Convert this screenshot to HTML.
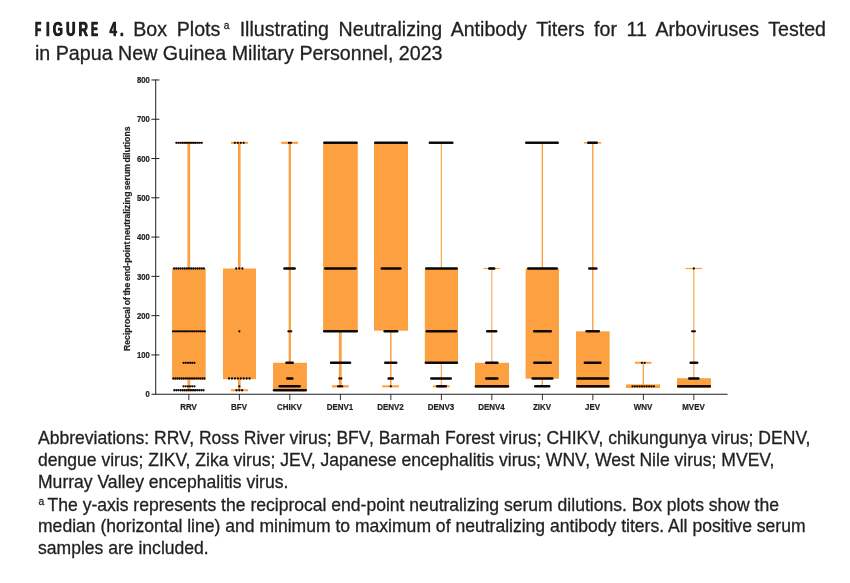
<!DOCTYPE html>
<html lang="en">
<head>
<meta charset="utf-8">
<title>Figure 4</title>
<style>
html,body{margin:0;padding:0;background:#fff;}
body{width:850px;height:583px;position:relative;overflow:hidden;font-family:"Liberation Sans",Arial,sans-serif;color:#231f20;}
.ln{position:absolute;white-space:nowrap;margin:0;line-height:1;-webkit-text-stroke:0.3px #231f20;}
.t{font-size:19.6px;}
.c{font-size:17.56px;}
.fig{display:inline-block;font-weight:bold;letter-spacing:4.8px;word-spacing:0.1px;transform:scaleX(0.66);transform-origin:0 50%;text-shadow:0.55px 0 0 #231f20,-0.55px 0 0 #231f20;}
.nw{display:inline-block;transform:scaleX(0.8);transform-origin:0 50%;}
sup.a{font-size:10.2px;vertical-align:baseline;position:relative;top:-7px;line-height:0;}
svg text{font-family:"Liberation Sans",Arial,sans-serif;fill:#231f20;stroke:#231f20;stroke-width:0.22px;}
.tk{font-size:8.7px;font-weight:bold;}
.xl{font-size:9.2px;font-weight:bold;}
.yl{font-size:8.66px;font-weight:bold;word-spacing:-0.9px;}
</style>
</head>
<body>
<div class="ln t" id="t1" style="left:35px;top:20px;word-spacing:4.2px;"><span class="fig"><span class="nw">F</span>IGUR<span class="nw">E</span> 4.</span><span id="t1r" style="position:absolute;left:98.3px;top:0;">Box Plots<sup class="a" style="margin:0 0.5px 0 3.6px">a</sup> Illustrating Neutralizing Antibody Titers for 11 Arboviruses Tested</span></div>
<div class="ln t" id="t2" style="left:35px;top:43.7px;font-size:19.66px;">in Papua New Guinea Military Personnel, 2023</div>
<svg width="850" height="583" viewBox="0 0 850 583" style="position:absolute;left:0;top:0">
<g shape-rendering="auto">
<rect x="187.45" y="142.81" width="2.70" height="247.46" fill="#fda03f"/>
<rect x="181.50" y="141.71" width="14.70" height="2.20" fill="#fda03f"/>
<rect x="181.50" y="389.17" width="14.70" height="2.20" fill="#fda03f"/>
<rect x="172.10" y="268.50" width="33.60" height="111.30" fill="#fda03f"/>
<rect x="238.00" y="142.81" width="2.60" height="247.46" fill="#fda03f"/>
<rect x="231.00" y="141.76" width="17.00" height="2.10" fill="#fda03f"/>
<rect x="231.00" y="389.27" width="17.00" height="2.00" fill="#fda03f"/>
<rect x="223.00" y="268.50" width="33.00" height="110.70" fill="#fda03f"/>
<rect x="288.65" y="142.81" width="2.30" height="247.46" fill="#fda03f"/>
<rect x="281.20" y="141.71" width="16.80" height="2.20" fill="#fda03f"/>
<rect x="273.00" y="362.78" width="33.90" height="28.02" fill="#fda03f"/>
<rect x="338.90" y="331.35" width="2.80" height="54.99" fill="#fda03f"/>
<rect x="332.00" y="385.19" width="16.70" height="2.30" fill="#fda03f"/>
<rect x="323.10" y="142.51" width="34.70" height="188.89" fill="#fda03f"/>
<rect x="390.05" y="331.35" width="1.50" height="54.99" fill="#fda03f"/>
<rect x="382.20" y="385.34" width="16.80" height="2.00" fill="#fda03f"/>
<rect x="374.00" y="142.51" width="34.00" height="188.19" fill="#fda03f"/>
<rect x="440.75" y="142.81" width="1.10" height="243.54" fill="#fda03f"/>
<rect x="433.00" y="385.34" width="16.60" height="2.00" fill="#fda03f"/>
<rect x="424.80" y="268.50" width="33.20" height="94.70" fill="#fda03f"/>
<rect x="491.30" y="268.50" width="1.00" height="117.84" fill="#fda03f"/>
<rect x="483.40" y="267.90" width="16.60" height="1.20" fill="#fda03f"/>
<rect x="475.00" y="362.78" width="34.00" height="25.22" fill="#fda03f"/>
<rect x="541.60" y="142.81" width="1.40" height="243.54" fill="#fda03f"/>
<rect x="525.60" y="268.50" width="33.40" height="110.20" fill="#fda03f"/>
<rect x="592.10" y="142.81" width="1.40" height="243.54" fill="#fda03f"/>
<rect x="584.00" y="142.01" width="17.20" height="1.60" fill="#fda03f"/>
<rect x="576.00" y="331.35" width="33.60" height="56.65" fill="#fda03f"/>
<rect x="642.65" y="362.78" width="1.30" height="23.57" fill="#fda03f"/>
<rect x="635.00" y="361.78" width="16.40" height="2.00" fill="#fda03f"/>
<rect x="626.00" y="384.40" width="34.00" height="3.60" fill="#fda03f"/>
<rect x="693.25" y="268.50" width="1.10" height="109.98" fill="#fda03f"/>
<rect x="685.40" y="267.90" width="16.60" height="1.20" fill="#fda03f"/>
<rect x="677.00" y="378.20" width="34.00" height="9.80" fill="#fda03f"/>
</g>
<g fill="#0a0606">
<circle cx="176.35" cy="142.81" r="1.15"/>
<circle cx="178.30" cy="142.81" r="1.15"/>
<circle cx="180.26" cy="142.81" r="1.15"/>
<circle cx="182.21" cy="142.81" r="1.15"/>
<circle cx="184.17" cy="142.81" r="1.15"/>
<circle cx="186.12" cy="142.81" r="1.15"/>
<circle cx="188.07" cy="142.81" r="1.15"/>
<circle cx="190.03" cy="142.81" r="1.15"/>
<circle cx="191.98" cy="142.81" r="1.15"/>
<circle cx="193.93" cy="142.81" r="1.15"/>
<circle cx="195.89" cy="142.81" r="1.15"/>
<circle cx="197.84" cy="142.81" r="1.15"/>
<circle cx="199.80" cy="142.81" r="1.15"/>
<circle cx="201.75" cy="142.81" r="1.15"/>
<circle cx="174.15" cy="268.50" r="1.15"/>
<circle cx="176.27" cy="268.50" r="1.15"/>
<circle cx="178.39" cy="268.50" r="1.15"/>
<circle cx="180.51" cy="268.50" r="1.15"/>
<circle cx="182.64" cy="268.50" r="1.15"/>
<circle cx="184.76" cy="268.50" r="1.15"/>
<circle cx="186.88" cy="268.50" r="1.15"/>
<circle cx="189.00" cy="268.50" r="1.15"/>
<circle cx="191.12" cy="268.50" r="1.15"/>
<circle cx="193.24" cy="268.50" r="1.15"/>
<circle cx="195.36" cy="268.50" r="1.15"/>
<circle cx="197.49" cy="268.50" r="1.15"/>
<circle cx="199.61" cy="268.50" r="1.15"/>
<circle cx="201.73" cy="268.50" r="1.15"/>
<circle cx="203.85" cy="268.50" r="1.15"/>
<circle cx="173.05" cy="331.35" r="1.15"/>
<circle cx="175.03" cy="331.35" r="1.15"/>
<circle cx="177.01" cy="331.35" r="1.15"/>
<circle cx="178.99" cy="331.35" r="1.15"/>
<circle cx="180.98" cy="331.35" r="1.15"/>
<circle cx="182.96" cy="331.35" r="1.15"/>
<circle cx="184.94" cy="331.35" r="1.15"/>
<circle cx="186.92" cy="331.35" r="1.15"/>
<circle cx="188.90" cy="331.35" r="1.15"/>
<circle cx="190.88" cy="331.35" r="1.15"/>
<circle cx="192.86" cy="331.35" r="1.15"/>
<circle cx="194.84" cy="331.35" r="1.15"/>
<circle cx="196.82" cy="331.35" r="1.15"/>
<circle cx="198.81" cy="331.35" r="1.15"/>
<circle cx="200.79" cy="331.35" r="1.15"/>
<circle cx="202.77" cy="331.35" r="1.15"/>
<circle cx="204.75" cy="331.35" r="1.15"/>
<circle cx="183.55" cy="362.78" r="1.15"/>
<circle cx="185.73" cy="362.78" r="1.15"/>
<circle cx="187.91" cy="362.78" r="1.15"/>
<circle cx="190.09" cy="362.78" r="1.15"/>
<circle cx="192.27" cy="362.78" r="1.15"/>
<circle cx="194.45" cy="362.78" r="1.15"/>
<circle cx="173.35" cy="378.49" r="1.15"/>
<circle cx="175.42" cy="378.49" r="1.15"/>
<circle cx="177.50" cy="378.49" r="1.15"/>
<circle cx="179.57" cy="378.49" r="1.15"/>
<circle cx="181.64" cy="378.49" r="1.15"/>
<circle cx="183.72" cy="378.49" r="1.15"/>
<circle cx="185.79" cy="378.49" r="1.15"/>
<circle cx="187.86" cy="378.49" r="1.15"/>
<circle cx="189.94" cy="378.49" r="1.15"/>
<circle cx="192.01" cy="378.49" r="1.15"/>
<circle cx="194.08" cy="378.49" r="1.15"/>
<circle cx="196.16" cy="378.49" r="1.15"/>
<circle cx="198.23" cy="378.49" r="1.15"/>
<circle cx="200.30" cy="378.49" r="1.15"/>
<circle cx="202.38" cy="378.49" r="1.15"/>
<circle cx="204.45" cy="378.49" r="1.15"/>
<circle cx="183.55" cy="386.34" r="1.15"/>
<circle cx="185.73" cy="386.34" r="1.15"/>
<circle cx="187.91" cy="386.34" r="1.15"/>
<circle cx="190.09" cy="386.34" r="1.15"/>
<circle cx="192.27" cy="386.34" r="1.15"/>
<circle cx="194.45" cy="386.34" r="1.15"/>
<circle cx="174.35" cy="390.27" r="1.15"/>
<circle cx="176.43" cy="390.27" r="1.15"/>
<circle cx="178.51" cy="390.27" r="1.15"/>
<circle cx="180.59" cy="390.27" r="1.15"/>
<circle cx="182.66" cy="390.27" r="1.15"/>
<circle cx="184.74" cy="390.27" r="1.15"/>
<circle cx="186.82" cy="390.27" r="1.15"/>
<circle cx="188.90" cy="390.27" r="1.15"/>
<circle cx="190.98" cy="390.27" r="1.15"/>
<circle cx="193.06" cy="390.27" r="1.15"/>
<circle cx="195.14" cy="390.27" r="1.15"/>
<circle cx="197.21" cy="390.27" r="1.15"/>
<circle cx="199.29" cy="390.27" r="1.15"/>
<circle cx="201.37" cy="390.27" r="1.15"/>
<circle cx="203.45" cy="390.27" r="1.15"/>
<circle cx="234.88" cy="142.81" r="1.15"/>
<circle cx="237.83" cy="142.81" r="1.15"/>
<circle cx="240.78" cy="142.81" r="1.15"/>
<circle cx="243.73" cy="142.81" r="1.15"/>
<circle cx="236.20" cy="268.50" r="1.15"/>
<circle cx="239.30" cy="268.50" r="1.15"/>
<circle cx="242.40" cy="268.50" r="1.15"/>
<circle cx="239.30" cy="331.35" r="1.15"/>
<circle cx="229.05" cy="378.49" r="1.15"/>
<circle cx="231.98" cy="378.49" r="1.15"/>
<circle cx="234.91" cy="378.49" r="1.15"/>
<circle cx="237.84" cy="378.49" r="1.15"/>
<circle cx="240.77" cy="378.49" r="1.15"/>
<circle cx="243.70" cy="378.49" r="1.15"/>
<circle cx="246.62" cy="378.49" r="1.15"/>
<circle cx="249.56" cy="378.49" r="1.15"/>
<circle cx="239.30" cy="386.34" r="1.15"/>
<circle cx="236.50" cy="390.27" r="1.15"/>
<circle cx="239.30" cy="390.27" r="1.15"/>
<circle cx="242.10" cy="390.27" r="1.15"/>
<circle cx="288.95" cy="142.81" r="1.15"/>
<circle cx="290.85" cy="142.81" r="1.15"/>
<circle cx="284.45" cy="268.50" r="1.25"/>
<circle cx="285.72" cy="268.50" r="1.25"/>
<circle cx="287.00" cy="268.50" r="1.25"/>
<circle cx="288.27" cy="268.50" r="1.25"/>
<circle cx="289.55" cy="268.50" r="1.25"/>
<circle cx="290.82" cy="268.50" r="1.25"/>
<circle cx="292.10" cy="268.50" r="1.25"/>
<circle cx="293.38" cy="268.50" r="1.25"/>
<circle cx="294.65" cy="268.50" r="1.25"/>
<circle cx="288.45" cy="331.35" r="1.15"/>
<circle cx="289.85" cy="331.35" r="1.15"/>
<circle cx="291.25" cy="331.35" r="1.15"/>
<circle cx="286.45" cy="362.78" r="1.25"/>
<circle cx="287.71" cy="362.78" r="1.25"/>
<circle cx="288.97" cy="362.78" r="1.25"/>
<circle cx="290.23" cy="362.78" r="1.25"/>
<circle cx="291.49" cy="362.78" r="1.25"/>
<circle cx="292.75" cy="362.78" r="1.25"/>
<circle cx="287.25" cy="378.49" r="1.25"/>
<circle cx="288.52" cy="378.49" r="1.25"/>
<circle cx="289.80" cy="378.49" r="1.25"/>
<circle cx="291.08" cy="378.49" r="1.25"/>
<circle cx="292.35" cy="378.49" r="1.25"/>
<circle cx="279.65" cy="386.34" r="1.25"/>
<circle cx="280.98" cy="386.34" r="1.25"/>
<circle cx="282.30" cy="386.34" r="1.25"/>
<circle cx="283.63" cy="386.34" r="1.25"/>
<circle cx="284.96" cy="386.34" r="1.25"/>
<circle cx="286.28" cy="386.34" r="1.25"/>
<circle cx="287.61" cy="386.34" r="1.25"/>
<circle cx="288.94" cy="386.34" r="1.25"/>
<circle cx="290.26" cy="386.34" r="1.25"/>
<circle cx="291.59" cy="386.34" r="1.25"/>
<circle cx="292.92" cy="386.34" r="1.25"/>
<circle cx="294.24" cy="386.34" r="1.25"/>
<circle cx="295.57" cy="386.34" r="1.25"/>
<circle cx="296.90" cy="386.34" r="1.25"/>
<circle cx="298.22" cy="386.34" r="1.25"/>
<circle cx="299.55" cy="386.34" r="1.25"/>
<circle cx="274.05" cy="390.27" r="1.25"/>
<circle cx="275.37" cy="390.27" r="1.25"/>
<circle cx="276.69" cy="390.27" r="1.25"/>
<circle cx="278.01" cy="390.27" r="1.25"/>
<circle cx="279.33" cy="390.27" r="1.25"/>
<circle cx="280.65" cy="390.27" r="1.25"/>
<circle cx="281.98" cy="390.27" r="1.25"/>
<circle cx="283.30" cy="390.27" r="1.25"/>
<circle cx="284.62" cy="390.27" r="1.25"/>
<circle cx="285.94" cy="390.27" r="1.25"/>
<circle cx="287.26" cy="390.27" r="1.25"/>
<circle cx="288.58" cy="390.27" r="1.25"/>
<circle cx="289.90" cy="390.27" r="1.25"/>
<circle cx="291.22" cy="390.27" r="1.25"/>
<circle cx="292.54" cy="390.27" r="1.25"/>
<circle cx="293.86" cy="390.27" r="1.25"/>
<circle cx="295.18" cy="390.27" r="1.25"/>
<circle cx="296.50" cy="390.27" r="1.25"/>
<circle cx="297.82" cy="390.27" r="1.25"/>
<circle cx="299.15" cy="390.27" r="1.25"/>
<circle cx="300.47" cy="390.27" r="1.25"/>
<circle cx="301.79" cy="390.27" r="1.25"/>
<circle cx="303.11" cy="390.27" r="1.25"/>
<circle cx="304.43" cy="390.27" r="1.25"/>
<circle cx="305.75" cy="390.27" r="1.25"/>
<circle cx="324.35" cy="142.81" r="1.25"/>
<circle cx="325.64" cy="142.81" r="1.25"/>
<circle cx="326.93" cy="142.81" r="1.25"/>
<circle cx="328.21" cy="142.81" r="1.25"/>
<circle cx="329.50" cy="142.81" r="1.25"/>
<circle cx="330.79" cy="142.81" r="1.25"/>
<circle cx="332.08" cy="142.81" r="1.25"/>
<circle cx="333.37" cy="142.81" r="1.25"/>
<circle cx="334.65" cy="142.81" r="1.25"/>
<circle cx="335.94" cy="142.81" r="1.25"/>
<circle cx="337.23" cy="142.81" r="1.25"/>
<circle cx="338.52" cy="142.81" r="1.25"/>
<circle cx="339.81" cy="142.81" r="1.25"/>
<circle cx="341.09" cy="142.81" r="1.25"/>
<circle cx="342.38" cy="142.81" r="1.25"/>
<circle cx="343.67" cy="142.81" r="1.25"/>
<circle cx="344.96" cy="142.81" r="1.25"/>
<circle cx="346.25" cy="142.81" r="1.25"/>
<circle cx="347.53" cy="142.81" r="1.25"/>
<circle cx="348.82" cy="142.81" r="1.25"/>
<circle cx="350.11" cy="142.81" r="1.25"/>
<circle cx="351.40" cy="142.81" r="1.25"/>
<circle cx="352.69" cy="142.81" r="1.25"/>
<circle cx="353.97" cy="142.81" r="1.25"/>
<circle cx="355.26" cy="142.81" r="1.25"/>
<circle cx="356.55" cy="142.81" r="1.25"/>
<circle cx="325.25" cy="268.50" r="1.25"/>
<circle cx="326.57" cy="268.50" r="1.25"/>
<circle cx="327.88" cy="268.50" r="1.25"/>
<circle cx="329.20" cy="268.50" r="1.25"/>
<circle cx="330.52" cy="268.50" r="1.25"/>
<circle cx="331.84" cy="268.50" r="1.25"/>
<circle cx="333.15" cy="268.50" r="1.25"/>
<circle cx="334.47" cy="268.50" r="1.25"/>
<circle cx="335.79" cy="268.50" r="1.25"/>
<circle cx="337.11" cy="268.50" r="1.25"/>
<circle cx="338.42" cy="268.50" r="1.25"/>
<circle cx="339.74" cy="268.50" r="1.25"/>
<circle cx="341.06" cy="268.50" r="1.25"/>
<circle cx="342.38" cy="268.50" r="1.25"/>
<circle cx="343.69" cy="268.50" r="1.25"/>
<circle cx="345.01" cy="268.50" r="1.25"/>
<circle cx="346.33" cy="268.50" r="1.25"/>
<circle cx="347.65" cy="268.50" r="1.25"/>
<circle cx="348.96" cy="268.50" r="1.25"/>
<circle cx="350.28" cy="268.50" r="1.25"/>
<circle cx="351.60" cy="268.50" r="1.25"/>
<circle cx="352.92" cy="268.50" r="1.25"/>
<circle cx="354.23" cy="268.50" r="1.25"/>
<circle cx="355.55" cy="268.50" r="1.25"/>
<circle cx="324.25" cy="331.35" r="1.25"/>
<circle cx="325.55" cy="331.35" r="1.25"/>
<circle cx="326.85" cy="331.35" r="1.25"/>
<circle cx="328.15" cy="331.35" r="1.25"/>
<circle cx="329.45" cy="331.35" r="1.25"/>
<circle cx="330.75" cy="331.35" r="1.25"/>
<circle cx="332.05" cy="331.35" r="1.25"/>
<circle cx="333.35" cy="331.35" r="1.25"/>
<circle cx="334.65" cy="331.35" r="1.25"/>
<circle cx="335.95" cy="331.35" r="1.25"/>
<circle cx="337.25" cy="331.35" r="1.25"/>
<circle cx="338.55" cy="331.35" r="1.25"/>
<circle cx="339.85" cy="331.35" r="1.25"/>
<circle cx="341.15" cy="331.35" r="1.25"/>
<circle cx="342.45" cy="331.35" r="1.25"/>
<circle cx="343.75" cy="331.35" r="1.25"/>
<circle cx="345.05" cy="331.35" r="1.25"/>
<circle cx="346.35" cy="331.35" r="1.25"/>
<circle cx="347.65" cy="331.35" r="1.25"/>
<circle cx="348.95" cy="331.35" r="1.25"/>
<circle cx="350.25" cy="331.35" r="1.25"/>
<circle cx="351.55" cy="331.35" r="1.25"/>
<circle cx="352.85" cy="331.35" r="1.25"/>
<circle cx="354.15" cy="331.35" r="1.25"/>
<circle cx="355.45" cy="331.35" r="1.25"/>
<circle cx="356.75" cy="331.35" r="1.25"/>
<circle cx="331.05" cy="362.78" r="1.25"/>
<circle cx="332.32" cy="362.78" r="1.25"/>
<circle cx="333.58" cy="362.78" r="1.25"/>
<circle cx="334.85" cy="362.78" r="1.25"/>
<circle cx="336.12" cy="362.78" r="1.25"/>
<circle cx="337.38" cy="362.78" r="1.25"/>
<circle cx="338.65" cy="362.78" r="1.25"/>
<circle cx="339.92" cy="362.78" r="1.25"/>
<circle cx="341.18" cy="362.78" r="1.25"/>
<circle cx="342.45" cy="362.78" r="1.25"/>
<circle cx="343.72" cy="362.78" r="1.25"/>
<circle cx="344.98" cy="362.78" r="1.25"/>
<circle cx="346.25" cy="362.78" r="1.25"/>
<circle cx="347.52" cy="362.78" r="1.25"/>
<circle cx="348.78" cy="362.78" r="1.25"/>
<circle cx="350.05" cy="362.78" r="1.25"/>
<circle cx="339.35" cy="378.49" r="1.15"/>
<circle cx="341.25" cy="378.49" r="1.15"/>
<circle cx="338.15" cy="386.34" r="1.15"/>
<circle cx="339.48" cy="386.34" r="1.15"/>
<circle cx="340.82" cy="386.34" r="1.15"/>
<circle cx="342.15" cy="386.34" r="1.15"/>
<circle cx="375.25" cy="142.81" r="1.25"/>
<circle cx="376.56" cy="142.81" r="1.25"/>
<circle cx="377.88" cy="142.81" r="1.25"/>
<circle cx="379.19" cy="142.81" r="1.25"/>
<circle cx="380.50" cy="142.81" r="1.25"/>
<circle cx="381.81" cy="142.81" r="1.25"/>
<circle cx="383.12" cy="142.81" r="1.25"/>
<circle cx="384.44" cy="142.81" r="1.25"/>
<circle cx="385.75" cy="142.81" r="1.25"/>
<circle cx="387.06" cy="142.81" r="1.25"/>
<circle cx="388.38" cy="142.81" r="1.25"/>
<circle cx="389.69" cy="142.81" r="1.25"/>
<circle cx="391.00" cy="142.81" r="1.25"/>
<circle cx="392.31" cy="142.81" r="1.25"/>
<circle cx="393.62" cy="142.81" r="1.25"/>
<circle cx="394.94" cy="142.81" r="1.25"/>
<circle cx="396.25" cy="142.81" r="1.25"/>
<circle cx="397.56" cy="142.81" r="1.25"/>
<circle cx="398.88" cy="142.81" r="1.25"/>
<circle cx="400.19" cy="142.81" r="1.25"/>
<circle cx="401.50" cy="142.81" r="1.25"/>
<circle cx="402.81" cy="142.81" r="1.25"/>
<circle cx="404.12" cy="142.81" r="1.25"/>
<circle cx="405.44" cy="142.81" r="1.25"/>
<circle cx="406.75" cy="142.81" r="1.25"/>
<circle cx="381.85" cy="268.50" r="1.25"/>
<circle cx="383.17" cy="268.50" r="1.25"/>
<circle cx="384.49" cy="268.50" r="1.25"/>
<circle cx="385.81" cy="268.50" r="1.25"/>
<circle cx="387.14" cy="268.50" r="1.25"/>
<circle cx="388.46" cy="268.50" r="1.25"/>
<circle cx="389.78" cy="268.50" r="1.25"/>
<circle cx="391.10" cy="268.50" r="1.25"/>
<circle cx="392.42" cy="268.50" r="1.25"/>
<circle cx="393.74" cy="268.50" r="1.25"/>
<circle cx="395.06" cy="268.50" r="1.25"/>
<circle cx="396.39" cy="268.50" r="1.25"/>
<circle cx="397.71" cy="268.50" r="1.25"/>
<circle cx="399.03" cy="268.50" r="1.25"/>
<circle cx="400.35" cy="268.50" r="1.25"/>
<circle cx="384.65" cy="331.35" r="1.25"/>
<circle cx="385.90" cy="331.35" r="1.25"/>
<circle cx="387.15" cy="331.35" r="1.25"/>
<circle cx="388.40" cy="331.35" r="1.25"/>
<circle cx="389.65" cy="331.35" r="1.25"/>
<circle cx="390.90" cy="331.35" r="1.25"/>
<circle cx="392.15" cy="331.35" r="1.25"/>
<circle cx="393.40" cy="331.35" r="1.25"/>
<circle cx="394.65" cy="331.35" r="1.25"/>
<circle cx="395.90" cy="331.35" r="1.25"/>
<circle cx="397.15" cy="331.35" r="1.25"/>
<circle cx="385.25" cy="362.78" r="1.25"/>
<circle cx="386.61" cy="362.78" r="1.25"/>
<circle cx="387.98" cy="362.78" r="1.25"/>
<circle cx="389.34" cy="362.78" r="1.25"/>
<circle cx="390.70" cy="362.78" r="1.25"/>
<circle cx="392.06" cy="362.78" r="1.25"/>
<circle cx="393.42" cy="362.78" r="1.25"/>
<circle cx="394.79" cy="362.78" r="1.25"/>
<circle cx="396.15" cy="362.78" r="1.25"/>
<circle cx="388.65" cy="378.49" r="1.25"/>
<circle cx="390.02" cy="378.49" r="1.25"/>
<circle cx="391.38" cy="378.49" r="1.25"/>
<circle cx="392.75" cy="378.49" r="1.25"/>
<circle cx="390.80" cy="386.34" r="1.15"/>
<circle cx="429.85" cy="142.81" r="1.25"/>
<circle cx="431.17" cy="142.81" r="1.25"/>
<circle cx="432.50" cy="142.81" r="1.25"/>
<circle cx="433.82" cy="142.81" r="1.25"/>
<circle cx="435.14" cy="142.81" r="1.25"/>
<circle cx="436.47" cy="142.81" r="1.25"/>
<circle cx="437.79" cy="142.81" r="1.25"/>
<circle cx="439.11" cy="142.81" r="1.25"/>
<circle cx="440.44" cy="142.81" r="1.25"/>
<circle cx="441.76" cy="142.81" r="1.25"/>
<circle cx="443.09" cy="142.81" r="1.25"/>
<circle cx="444.41" cy="142.81" r="1.25"/>
<circle cx="445.73" cy="142.81" r="1.25"/>
<circle cx="447.06" cy="142.81" r="1.25"/>
<circle cx="448.38" cy="142.81" r="1.25"/>
<circle cx="449.70" cy="142.81" r="1.25"/>
<circle cx="451.03" cy="142.81" r="1.25"/>
<circle cx="452.35" cy="142.81" r="1.25"/>
<circle cx="426.25" cy="268.50" r="1.25"/>
<circle cx="427.58" cy="268.50" r="1.25"/>
<circle cx="428.90" cy="268.50" r="1.25"/>
<circle cx="430.23" cy="268.50" r="1.25"/>
<circle cx="431.55" cy="268.50" r="1.25"/>
<circle cx="432.88" cy="268.50" r="1.25"/>
<circle cx="434.21" cy="268.50" r="1.25"/>
<circle cx="435.53" cy="268.50" r="1.25"/>
<circle cx="436.86" cy="268.50" r="1.25"/>
<circle cx="438.18" cy="268.50" r="1.25"/>
<circle cx="439.51" cy="268.50" r="1.25"/>
<circle cx="440.84" cy="268.50" r="1.25"/>
<circle cx="442.16" cy="268.50" r="1.25"/>
<circle cx="443.49" cy="268.50" r="1.25"/>
<circle cx="444.82" cy="268.50" r="1.25"/>
<circle cx="446.14" cy="268.50" r="1.25"/>
<circle cx="447.47" cy="268.50" r="1.25"/>
<circle cx="448.79" cy="268.50" r="1.25"/>
<circle cx="450.12" cy="268.50" r="1.25"/>
<circle cx="451.45" cy="268.50" r="1.25"/>
<circle cx="452.77" cy="268.50" r="1.25"/>
<circle cx="454.10" cy="268.50" r="1.25"/>
<circle cx="455.42" cy="268.50" r="1.25"/>
<circle cx="456.75" cy="268.50" r="1.25"/>
<circle cx="426.85" cy="331.35" r="1.25"/>
<circle cx="428.17" cy="331.35" r="1.25"/>
<circle cx="429.50" cy="331.35" r="1.25"/>
<circle cx="430.82" cy="331.35" r="1.25"/>
<circle cx="432.14" cy="331.35" r="1.25"/>
<circle cx="433.46" cy="331.35" r="1.25"/>
<circle cx="434.79" cy="331.35" r="1.25"/>
<circle cx="436.11" cy="331.35" r="1.25"/>
<circle cx="437.43" cy="331.35" r="1.25"/>
<circle cx="438.75" cy="331.35" r="1.25"/>
<circle cx="440.08" cy="331.35" r="1.25"/>
<circle cx="441.40" cy="331.35" r="1.25"/>
<circle cx="442.72" cy="331.35" r="1.25"/>
<circle cx="444.05" cy="331.35" r="1.25"/>
<circle cx="445.37" cy="331.35" r="1.25"/>
<circle cx="446.69" cy="331.35" r="1.25"/>
<circle cx="448.01" cy="331.35" r="1.25"/>
<circle cx="449.34" cy="331.35" r="1.25"/>
<circle cx="450.66" cy="331.35" r="1.25"/>
<circle cx="451.98" cy="331.35" r="1.25"/>
<circle cx="453.30" cy="331.35" r="1.25"/>
<circle cx="454.63" cy="331.35" r="1.25"/>
<circle cx="455.95" cy="331.35" r="1.25"/>
<circle cx="425.85" cy="362.78" r="1.25"/>
<circle cx="427.15" cy="362.78" r="1.25"/>
<circle cx="428.44" cy="362.78" r="1.25"/>
<circle cx="429.74" cy="362.78" r="1.25"/>
<circle cx="431.03" cy="362.78" r="1.25"/>
<circle cx="432.33" cy="362.78" r="1.25"/>
<circle cx="433.62" cy="362.78" r="1.25"/>
<circle cx="434.92" cy="362.78" r="1.25"/>
<circle cx="436.22" cy="362.78" r="1.25"/>
<circle cx="437.51" cy="362.78" r="1.25"/>
<circle cx="438.81" cy="362.78" r="1.25"/>
<circle cx="440.10" cy="362.78" r="1.25"/>
<circle cx="441.40" cy="362.78" r="1.25"/>
<circle cx="442.70" cy="362.78" r="1.25"/>
<circle cx="443.99" cy="362.78" r="1.25"/>
<circle cx="445.29" cy="362.78" r="1.25"/>
<circle cx="446.58" cy="362.78" r="1.25"/>
<circle cx="447.88" cy="362.78" r="1.25"/>
<circle cx="449.18" cy="362.78" r="1.25"/>
<circle cx="450.47" cy="362.78" r="1.25"/>
<circle cx="451.77" cy="362.78" r="1.25"/>
<circle cx="453.06" cy="362.78" r="1.25"/>
<circle cx="454.36" cy="362.78" r="1.25"/>
<circle cx="455.65" cy="362.78" r="1.25"/>
<circle cx="456.95" cy="362.78" r="1.25"/>
<circle cx="431.25" cy="378.49" r="1.25"/>
<circle cx="432.55" cy="378.49" r="1.25"/>
<circle cx="433.85" cy="378.49" r="1.25"/>
<circle cx="435.15" cy="378.49" r="1.25"/>
<circle cx="436.45" cy="378.49" r="1.25"/>
<circle cx="437.75" cy="378.49" r="1.25"/>
<circle cx="439.05" cy="378.49" r="1.25"/>
<circle cx="440.35" cy="378.49" r="1.25"/>
<circle cx="441.65" cy="378.49" r="1.25"/>
<circle cx="442.95" cy="378.49" r="1.25"/>
<circle cx="444.25" cy="378.49" r="1.25"/>
<circle cx="445.55" cy="378.49" r="1.25"/>
<circle cx="446.85" cy="378.49" r="1.25"/>
<circle cx="448.15" cy="378.49" r="1.25"/>
<circle cx="449.45" cy="378.49" r="1.25"/>
<circle cx="450.75" cy="378.49" r="1.25"/>
<circle cx="437.25" cy="386.34" r="1.25"/>
<circle cx="438.46" cy="386.34" r="1.25"/>
<circle cx="439.68" cy="386.34" r="1.25"/>
<circle cx="440.89" cy="386.34" r="1.25"/>
<circle cx="442.11" cy="386.34" r="1.25"/>
<circle cx="443.32" cy="386.34" r="1.25"/>
<circle cx="444.54" cy="386.34" r="1.25"/>
<circle cx="445.75" cy="386.34" r="1.25"/>
<circle cx="489.25" cy="268.50" r="1.25"/>
<circle cx="490.48" cy="268.50" r="1.25"/>
<circle cx="491.70" cy="268.50" r="1.25"/>
<circle cx="492.92" cy="268.50" r="1.25"/>
<circle cx="494.15" cy="268.50" r="1.25"/>
<circle cx="487.25" cy="331.35" r="1.25"/>
<circle cx="488.52" cy="331.35" r="1.25"/>
<circle cx="489.79" cy="331.35" r="1.25"/>
<circle cx="491.06" cy="331.35" r="1.25"/>
<circle cx="492.34" cy="331.35" r="1.25"/>
<circle cx="493.61" cy="331.35" r="1.25"/>
<circle cx="494.88" cy="331.35" r="1.25"/>
<circle cx="496.15" cy="331.35" r="1.25"/>
<circle cx="486.25" cy="362.78" r="1.25"/>
<circle cx="487.48" cy="362.78" r="1.25"/>
<circle cx="488.72" cy="362.78" r="1.25"/>
<circle cx="489.95" cy="362.78" r="1.25"/>
<circle cx="491.18" cy="362.78" r="1.25"/>
<circle cx="492.42" cy="362.78" r="1.25"/>
<circle cx="493.65" cy="362.78" r="1.25"/>
<circle cx="494.88" cy="362.78" r="1.25"/>
<circle cx="496.12" cy="362.78" r="1.25"/>
<circle cx="497.35" cy="362.78" r="1.25"/>
<circle cx="486.25" cy="378.49" r="1.25"/>
<circle cx="487.48" cy="378.49" r="1.25"/>
<circle cx="488.72" cy="378.49" r="1.25"/>
<circle cx="489.95" cy="378.49" r="1.25"/>
<circle cx="491.18" cy="378.49" r="1.25"/>
<circle cx="492.42" cy="378.49" r="1.25"/>
<circle cx="493.65" cy="378.49" r="1.25"/>
<circle cx="494.88" cy="378.49" r="1.25"/>
<circle cx="496.12" cy="378.49" r="1.25"/>
<circle cx="497.35" cy="378.49" r="1.25"/>
<circle cx="475.85" cy="386.34" r="1.25"/>
<circle cx="477.13" cy="386.34" r="1.25"/>
<circle cx="478.42" cy="386.34" r="1.25"/>
<circle cx="479.70" cy="386.34" r="1.25"/>
<circle cx="480.99" cy="386.34" r="1.25"/>
<circle cx="482.27" cy="386.34" r="1.25"/>
<circle cx="483.55" cy="386.34" r="1.25"/>
<circle cx="484.84" cy="386.34" r="1.25"/>
<circle cx="486.12" cy="386.34" r="1.25"/>
<circle cx="487.41" cy="386.34" r="1.25"/>
<circle cx="488.69" cy="386.34" r="1.25"/>
<circle cx="489.97" cy="386.34" r="1.25"/>
<circle cx="491.26" cy="386.34" r="1.25"/>
<circle cx="492.54" cy="386.34" r="1.25"/>
<circle cx="493.83" cy="386.34" r="1.25"/>
<circle cx="495.11" cy="386.34" r="1.25"/>
<circle cx="496.39" cy="386.34" r="1.25"/>
<circle cx="497.68" cy="386.34" r="1.25"/>
<circle cx="498.96" cy="386.34" r="1.25"/>
<circle cx="500.25" cy="386.34" r="1.25"/>
<circle cx="501.53" cy="386.34" r="1.25"/>
<circle cx="502.81" cy="386.34" r="1.25"/>
<circle cx="504.10" cy="386.34" r="1.25"/>
<circle cx="505.38" cy="386.34" r="1.25"/>
<circle cx="506.67" cy="386.34" r="1.25"/>
<circle cx="507.95" cy="386.34" r="1.25"/>
<circle cx="526.25" cy="142.81" r="1.25"/>
<circle cx="527.56" cy="142.81" r="1.25"/>
<circle cx="528.88" cy="142.81" r="1.25"/>
<circle cx="530.19" cy="142.81" r="1.25"/>
<circle cx="531.50" cy="142.81" r="1.25"/>
<circle cx="532.81" cy="142.81" r="1.25"/>
<circle cx="534.12" cy="142.81" r="1.25"/>
<circle cx="535.44" cy="142.81" r="1.25"/>
<circle cx="536.75" cy="142.81" r="1.25"/>
<circle cx="538.06" cy="142.81" r="1.25"/>
<circle cx="539.38" cy="142.81" r="1.25"/>
<circle cx="540.69" cy="142.81" r="1.25"/>
<circle cx="542.00" cy="142.81" r="1.25"/>
<circle cx="543.31" cy="142.81" r="1.25"/>
<circle cx="544.62" cy="142.81" r="1.25"/>
<circle cx="545.94" cy="142.81" r="1.25"/>
<circle cx="547.25" cy="142.81" r="1.25"/>
<circle cx="548.56" cy="142.81" r="1.25"/>
<circle cx="549.88" cy="142.81" r="1.25"/>
<circle cx="551.19" cy="142.81" r="1.25"/>
<circle cx="552.50" cy="142.81" r="1.25"/>
<circle cx="553.81" cy="142.81" r="1.25"/>
<circle cx="555.12" cy="142.81" r="1.25"/>
<circle cx="556.44" cy="142.81" r="1.25"/>
<circle cx="557.75" cy="142.81" r="1.25"/>
<circle cx="528.25" cy="268.50" r="1.25"/>
<circle cx="529.55" cy="268.50" r="1.25"/>
<circle cx="530.84" cy="268.50" r="1.25"/>
<circle cx="532.14" cy="268.50" r="1.25"/>
<circle cx="533.43" cy="268.50" r="1.25"/>
<circle cx="534.73" cy="268.50" r="1.25"/>
<circle cx="536.02" cy="268.50" r="1.25"/>
<circle cx="537.32" cy="268.50" r="1.25"/>
<circle cx="538.61" cy="268.50" r="1.25"/>
<circle cx="539.91" cy="268.50" r="1.25"/>
<circle cx="541.20" cy="268.50" r="1.25"/>
<circle cx="542.50" cy="268.50" r="1.25"/>
<circle cx="543.80" cy="268.50" r="1.25"/>
<circle cx="545.09" cy="268.50" r="1.25"/>
<circle cx="546.39" cy="268.50" r="1.25"/>
<circle cx="547.68" cy="268.50" r="1.25"/>
<circle cx="548.98" cy="268.50" r="1.25"/>
<circle cx="550.27" cy="268.50" r="1.25"/>
<circle cx="551.57" cy="268.50" r="1.25"/>
<circle cx="552.86" cy="268.50" r="1.25"/>
<circle cx="554.16" cy="268.50" r="1.25"/>
<circle cx="555.45" cy="268.50" r="1.25"/>
<circle cx="556.75" cy="268.50" r="1.25"/>
<circle cx="534.25" cy="331.35" r="1.25"/>
<circle cx="535.52" cy="331.35" r="1.25"/>
<circle cx="536.79" cy="331.35" r="1.25"/>
<circle cx="538.06" cy="331.35" r="1.25"/>
<circle cx="539.33" cy="331.35" r="1.25"/>
<circle cx="540.60" cy="331.35" r="1.25"/>
<circle cx="541.87" cy="331.35" r="1.25"/>
<circle cx="543.13" cy="331.35" r="1.25"/>
<circle cx="544.40" cy="331.35" r="1.25"/>
<circle cx="545.67" cy="331.35" r="1.25"/>
<circle cx="546.94" cy="331.35" r="1.25"/>
<circle cx="548.21" cy="331.35" r="1.25"/>
<circle cx="549.48" cy="331.35" r="1.25"/>
<circle cx="550.75" cy="331.35" r="1.25"/>
<circle cx="534.25" cy="362.78" r="1.25"/>
<circle cx="535.52" cy="362.78" r="1.25"/>
<circle cx="536.79" cy="362.78" r="1.25"/>
<circle cx="538.06" cy="362.78" r="1.25"/>
<circle cx="539.33" cy="362.78" r="1.25"/>
<circle cx="540.60" cy="362.78" r="1.25"/>
<circle cx="541.87" cy="362.78" r="1.25"/>
<circle cx="543.13" cy="362.78" r="1.25"/>
<circle cx="544.40" cy="362.78" r="1.25"/>
<circle cx="545.67" cy="362.78" r="1.25"/>
<circle cx="546.94" cy="362.78" r="1.25"/>
<circle cx="548.21" cy="362.78" r="1.25"/>
<circle cx="549.48" cy="362.78" r="1.25"/>
<circle cx="550.75" cy="362.78" r="1.25"/>
<circle cx="532.65" cy="378.49" r="1.25"/>
<circle cx="533.96" cy="378.49" r="1.25"/>
<circle cx="535.28" cy="378.49" r="1.25"/>
<circle cx="536.59" cy="378.49" r="1.25"/>
<circle cx="537.90" cy="378.49" r="1.25"/>
<circle cx="539.22" cy="378.49" r="1.25"/>
<circle cx="540.53" cy="378.49" r="1.25"/>
<circle cx="541.84" cy="378.49" r="1.25"/>
<circle cx="543.16" cy="378.49" r="1.25"/>
<circle cx="544.47" cy="378.49" r="1.25"/>
<circle cx="545.78" cy="378.49" r="1.25"/>
<circle cx="547.10" cy="378.49" r="1.25"/>
<circle cx="548.41" cy="378.49" r="1.25"/>
<circle cx="549.72" cy="378.49" r="1.25"/>
<circle cx="551.04" cy="378.49" r="1.25"/>
<circle cx="552.35" cy="378.49" r="1.25"/>
<circle cx="535.25" cy="386.34" r="1.25"/>
<circle cx="536.51" cy="386.34" r="1.25"/>
<circle cx="537.78" cy="386.34" r="1.25"/>
<circle cx="539.04" cy="386.34" r="1.25"/>
<circle cx="540.30" cy="386.34" r="1.25"/>
<circle cx="541.57" cy="386.34" r="1.25"/>
<circle cx="542.83" cy="386.34" r="1.25"/>
<circle cx="544.10" cy="386.34" r="1.25"/>
<circle cx="545.36" cy="386.34" r="1.25"/>
<circle cx="546.62" cy="386.34" r="1.25"/>
<circle cx="547.89" cy="386.34" r="1.25"/>
<circle cx="549.15" cy="386.34" r="1.25"/>
<circle cx="588.25" cy="142.81" r="1.25"/>
<circle cx="589.46" cy="142.81" r="1.25"/>
<circle cx="590.68" cy="142.81" r="1.25"/>
<circle cx="591.89" cy="142.81" r="1.25"/>
<circle cx="593.11" cy="142.81" r="1.25"/>
<circle cx="594.32" cy="142.81" r="1.25"/>
<circle cx="595.54" cy="142.81" r="1.25"/>
<circle cx="596.75" cy="142.81" r="1.25"/>
<circle cx="589.25" cy="268.50" r="1.25"/>
<circle cx="590.67" cy="268.50" r="1.25"/>
<circle cx="592.09" cy="268.50" r="1.25"/>
<circle cx="593.51" cy="268.50" r="1.25"/>
<circle cx="594.93" cy="268.50" r="1.25"/>
<circle cx="596.35" cy="268.50" r="1.25"/>
<circle cx="586.65" cy="331.35" r="1.25"/>
<circle cx="587.99" cy="331.35" r="1.25"/>
<circle cx="589.34" cy="331.35" r="1.25"/>
<circle cx="590.68" cy="331.35" r="1.25"/>
<circle cx="592.03" cy="331.35" r="1.25"/>
<circle cx="593.37" cy="331.35" r="1.25"/>
<circle cx="594.72" cy="331.35" r="1.25"/>
<circle cx="596.06" cy="331.35" r="1.25"/>
<circle cx="597.41" cy="331.35" r="1.25"/>
<circle cx="598.75" cy="331.35" r="1.25"/>
<circle cx="584.85" cy="362.78" r="1.25"/>
<circle cx="586.14" cy="362.78" r="1.25"/>
<circle cx="587.43" cy="362.78" r="1.25"/>
<circle cx="588.73" cy="362.78" r="1.25"/>
<circle cx="590.02" cy="362.78" r="1.25"/>
<circle cx="591.31" cy="362.78" r="1.25"/>
<circle cx="592.60" cy="362.78" r="1.25"/>
<circle cx="593.89" cy="362.78" r="1.25"/>
<circle cx="595.18" cy="362.78" r="1.25"/>
<circle cx="596.48" cy="362.78" r="1.25"/>
<circle cx="597.77" cy="362.78" r="1.25"/>
<circle cx="599.06" cy="362.78" r="1.25"/>
<circle cx="600.35" cy="362.78" r="1.25"/>
<circle cx="577.85" cy="378.49" r="1.25"/>
<circle cx="579.15" cy="378.49" r="1.25"/>
<circle cx="580.45" cy="378.49" r="1.25"/>
<circle cx="581.75" cy="378.49" r="1.25"/>
<circle cx="583.05" cy="378.49" r="1.25"/>
<circle cx="584.35" cy="378.49" r="1.25"/>
<circle cx="585.65" cy="378.49" r="1.25"/>
<circle cx="586.95" cy="378.49" r="1.25"/>
<circle cx="588.25" cy="378.49" r="1.25"/>
<circle cx="589.55" cy="378.49" r="1.25"/>
<circle cx="590.85" cy="378.49" r="1.25"/>
<circle cx="592.15" cy="378.49" r="1.25"/>
<circle cx="593.45" cy="378.49" r="1.25"/>
<circle cx="594.75" cy="378.49" r="1.25"/>
<circle cx="596.05" cy="378.49" r="1.25"/>
<circle cx="597.35" cy="378.49" r="1.25"/>
<circle cx="598.65" cy="378.49" r="1.25"/>
<circle cx="599.95" cy="378.49" r="1.25"/>
<circle cx="601.25" cy="378.49" r="1.25"/>
<circle cx="602.55" cy="378.49" r="1.25"/>
<circle cx="603.85" cy="378.49" r="1.25"/>
<circle cx="605.15" cy="378.49" r="1.25"/>
<circle cx="606.45" cy="378.49" r="1.25"/>
<circle cx="607.75" cy="378.49" r="1.25"/>
<circle cx="577.25" cy="386.34" r="1.25"/>
<circle cx="578.55" cy="386.34" r="1.25"/>
<circle cx="579.84" cy="386.34" r="1.25"/>
<circle cx="581.14" cy="386.34" r="1.25"/>
<circle cx="582.43" cy="386.34" r="1.25"/>
<circle cx="583.73" cy="386.34" r="1.25"/>
<circle cx="585.02" cy="386.34" r="1.25"/>
<circle cx="586.32" cy="386.34" r="1.25"/>
<circle cx="587.62" cy="386.34" r="1.25"/>
<circle cx="588.91" cy="386.34" r="1.25"/>
<circle cx="590.21" cy="386.34" r="1.25"/>
<circle cx="591.50" cy="386.34" r="1.25"/>
<circle cx="592.80" cy="386.34" r="1.25"/>
<circle cx="594.10" cy="386.34" r="1.25"/>
<circle cx="595.39" cy="386.34" r="1.25"/>
<circle cx="596.69" cy="386.34" r="1.25"/>
<circle cx="597.98" cy="386.34" r="1.25"/>
<circle cx="599.28" cy="386.34" r="1.25"/>
<circle cx="600.58" cy="386.34" r="1.25"/>
<circle cx="601.87" cy="386.34" r="1.25"/>
<circle cx="603.17" cy="386.34" r="1.25"/>
<circle cx="604.46" cy="386.34" r="1.25"/>
<circle cx="605.76" cy="386.34" r="1.25"/>
<circle cx="607.05" cy="386.34" r="1.25"/>
<circle cx="608.35" cy="386.34" r="1.25"/>
<circle cx="641.90" cy="362.78" r="1.15"/>
<circle cx="644.70" cy="362.78" r="1.15"/>
<circle cx="632.55" cy="386.34" r="1.15"/>
<circle cx="634.92" cy="386.34" r="1.15"/>
<circle cx="637.28" cy="386.34" r="1.15"/>
<circle cx="639.65" cy="386.34" r="1.15"/>
<circle cx="642.02" cy="386.34" r="1.15"/>
<circle cx="644.38" cy="386.34" r="1.15"/>
<circle cx="646.75" cy="386.34" r="1.15"/>
<circle cx="649.12" cy="386.34" r="1.15"/>
<circle cx="651.48" cy="386.34" r="1.15"/>
<circle cx="653.85" cy="386.34" r="1.15"/>
<circle cx="693.80" cy="268.50" r="1.15"/>
<circle cx="692.15" cy="331.35" r="1.15"/>
<circle cx="693.50" cy="331.35" r="1.15"/>
<circle cx="694.85" cy="331.35" r="1.15"/>
<circle cx="690.65" cy="362.78" r="1.25"/>
<circle cx="691.95" cy="362.78" r="1.25"/>
<circle cx="693.25" cy="362.78" r="1.25"/>
<circle cx="694.55" cy="362.78" r="1.25"/>
<circle cx="695.85" cy="362.78" r="1.25"/>
<circle cx="697.15" cy="362.78" r="1.25"/>
<circle cx="689.25" cy="378.49" r="1.25"/>
<circle cx="690.55" cy="378.49" r="1.25"/>
<circle cx="691.85" cy="378.49" r="1.25"/>
<circle cx="693.15" cy="378.49" r="1.25"/>
<circle cx="694.45" cy="378.49" r="1.25"/>
<circle cx="695.75" cy="378.49" r="1.25"/>
<circle cx="697.05" cy="378.49" r="1.25"/>
<circle cx="698.35" cy="378.49" r="1.25"/>
<circle cx="678.25" cy="386.34" r="1.25"/>
<circle cx="679.56" cy="386.34" r="1.25"/>
<circle cx="680.88" cy="386.34" r="1.25"/>
<circle cx="682.19" cy="386.34" r="1.25"/>
<circle cx="683.50" cy="386.34" r="1.25"/>
<circle cx="684.81" cy="386.34" r="1.25"/>
<circle cx="686.12" cy="386.34" r="1.25"/>
<circle cx="687.44" cy="386.34" r="1.25"/>
<circle cx="688.75" cy="386.34" r="1.25"/>
<circle cx="690.06" cy="386.34" r="1.25"/>
<circle cx="691.38" cy="386.34" r="1.25"/>
<circle cx="692.69" cy="386.34" r="1.25"/>
<circle cx="694.00" cy="386.34" r="1.25"/>
<circle cx="695.31" cy="386.34" r="1.25"/>
<circle cx="696.62" cy="386.34" r="1.25"/>
<circle cx="697.94" cy="386.34" r="1.25"/>
<circle cx="699.25" cy="386.34" r="1.25"/>
<circle cx="700.56" cy="386.34" r="1.25"/>
<circle cx="701.88" cy="386.34" r="1.25"/>
<circle cx="703.19" cy="386.34" r="1.25"/>
<circle cx="704.50" cy="386.34" r="1.25"/>
<circle cx="705.81" cy="386.34" r="1.25"/>
<circle cx="707.12" cy="386.34" r="1.25"/>
<circle cx="708.44" cy="386.34" r="1.25"/>
<circle cx="709.75" cy="386.34" r="1.25"/>
</g>
<g>
<rect x="155.2" y="79.6" width="1" height="315.10" fill="#231f20"/>
<rect x="155.2" y="393.75" width="572.40" height="1" fill="#231f20"/>
<rect x="151.5" y="393.75" width="4" height="1" fill="#231f20"/>
<text transform="translate(149.8,397.40) scale(0.885,1)" text-anchor="end" class="tk">0</text>
<rect x="151.4" y="354.42" width="8.0" height="1" fill="#231f20"/>
<text transform="translate(149.8,358.12) scale(0.885,1)" text-anchor="end" class="tk">100</text>
<rect x="151.4" y="315.14" width="8.0" height="1" fill="#231f20"/>
<text transform="translate(149.8,318.84) scale(0.885,1)" text-anchor="end" class="tk">200</text>
<rect x="151.4" y="275.86" width="8.0" height="1" fill="#231f20"/>
<text transform="translate(149.8,279.56) scale(0.885,1)" text-anchor="end" class="tk">300</text>
<rect x="151.4" y="236.58" width="8.0" height="1" fill="#231f20"/>
<text transform="translate(149.8,240.28) scale(0.885,1)" text-anchor="end" class="tk">400</text>
<rect x="151.4" y="197.30" width="8.0" height="1" fill="#231f20"/>
<text transform="translate(149.8,201.00) scale(0.885,1)" text-anchor="end" class="tk">500</text>
<rect x="151.4" y="158.02" width="8.0" height="1" fill="#231f20"/>
<text transform="translate(149.8,161.72) scale(0.885,1)" text-anchor="end" class="tk">600</text>
<rect x="151.4" y="118.74" width="8.0" height="1" fill="#231f20"/>
<text transform="translate(149.8,122.44) scale(0.885,1)" text-anchor="end" class="tk">700</text>
<rect x="151.4" y="79.46" width="8.0" height="1" fill="#231f20"/>
<text transform="translate(149.8,83.16) scale(0.885,1)" text-anchor="end" class="tk">800</text>
<rect x="188.40" y="394.20" width="0.9" height="5.9" fill="#231f20"/>
<text transform="translate(188.50,409.85) scale(0.868,1)" text-anchor="middle" class="xl">RRV</text>
<rect x="238.90" y="394.20" width="0.9" height="5.9" fill="#231f20"/>
<text transform="translate(239.00,409.85) scale(0.868,1)" text-anchor="middle" class="xl">BFV</text>
<rect x="289.40" y="394.20" width="0.9" height="5.9" fill="#231f20"/>
<text transform="translate(289.50,409.85) scale(0.868,1)" text-anchor="middle" class="xl">CHIKV</text>
<rect x="339.90" y="394.20" width="0.9" height="5.9" fill="#231f20"/>
<text transform="translate(340.00,409.85) scale(0.868,1)" text-anchor="middle" class="xl">DENV1</text>
<rect x="390.40" y="394.20" width="0.9" height="5.9" fill="#231f20"/>
<text transform="translate(390.50,409.85) scale(0.868,1)" text-anchor="middle" class="xl">DENV2</text>
<rect x="440.90" y="394.20" width="0.9" height="5.9" fill="#231f20"/>
<text transform="translate(441.00,409.85) scale(0.868,1)" text-anchor="middle" class="xl">DENV3</text>
<rect x="491.40" y="394.20" width="0.9" height="5.9" fill="#231f20"/>
<text transform="translate(491.50,409.85) scale(0.868,1)" text-anchor="middle" class="xl">DENV4</text>
<rect x="541.90" y="394.20" width="0.9" height="5.9" fill="#231f20"/>
<text transform="translate(542.00,409.85) scale(0.868,1)" text-anchor="middle" class="xl">ZIKV</text>
<rect x="592.40" y="394.20" width="0.9" height="5.9" fill="#231f20"/>
<text transform="translate(592.50,409.85) scale(0.868,1)" text-anchor="middle" class="xl">JEV</text>
<rect x="642.90" y="394.20" width="0.9" height="5.9" fill="#231f20"/>
<text transform="translate(643.00,409.85) scale(0.868,1)" text-anchor="middle" class="xl">WNV</text>
<rect x="693.40" y="394.20" width="0.9" height="5.9" fill="#231f20"/>
<text transform="translate(693.50,409.85) scale(0.868,1)" text-anchor="middle" class="xl">MVEV</text>
<text transform="translate(130.4,351) rotate(-90)" class="yl">Reciprocal of the end-point neutralizing serum dilutions</text>
</g>
</svg>
<div class="ln c" id="c1" style="left:38px;top:429.8px;">Abbreviations: RRV, Ross River virus; BFV, Barmah Forest virus; CHIKV, chikungunya virus; DENV,</div>
<div class="ln c" id="c2" style="left:38px;top:451.7px;">dengue virus; ZIKV, Zika virus; JEV, Japanese encephalitis virus; WNV, West Nile virus; MVEV,</div>
<div class="ln c" id="c3" style="left:38px;top:473.7px;">Murray Valley encephalitis virus.</div>
<div class="ln c" id="c4" style="left:37.6px;top:496.8px;"><sup class="a" style="top:-5.9px;margin-left:0.8px;margin-right:-1.1px">a</sup> The y-axis represents the reciprocal end-point neutralizing serum dilutions. Box plots show the</div>
<div class="ln c" id="c5" style="left:38px;top:518.2px;">median (horizontal line) and minimum to maximum of neutralizing antibody titers. All positive serum</div>
<div class="ln c" id="c6" style="left:38px;top:539.6px;">samples are included.</div>
</body>
</html>
